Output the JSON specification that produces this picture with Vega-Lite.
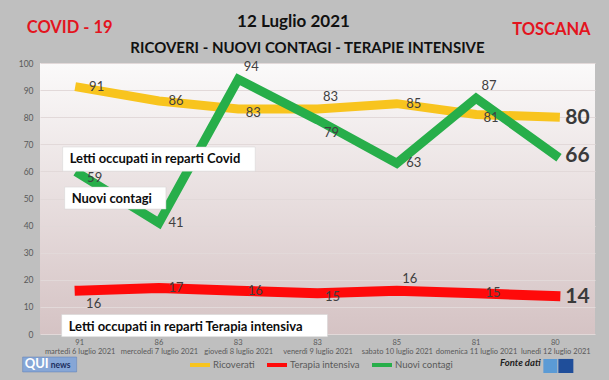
{
  "$schema": "https://vega.github.io/schema/vega-lite/v6.json",
  "width": 555,
  "height": 271,
  "autosize": {"type": "none"},
  "padding": {"left": 40, "top": 63, "right": 14, "bottom": 46},
  "background": "#BFBFBF",
  "config": {
    "font": "Lato",
    "view": {"stroke": null, "fill": {"gradient": "linear", "x1": 0, "y1": 0, "x2": 0, "y2": 1, "stops": [{"offset": 0, "color": "#FBFAFA"}, {"offset": 1, "color": "#D5C3C4"}]}},
    "axis": {"domain": false, "ticks": false, "title": null, "labelColor": "#595959", "labelFont": "Lato"}
  },
  "data": {"values": [
    {"giorno": "martedì 6 luglio 2021", "serie": "Ricoverati", "valore": 91},
    {"giorno": "mercoledì 7 luglio 2021", "serie": "Ricoverati", "valore": 86},
    {"giorno": "giovedì 8 luglio 2021", "serie": "Ricoverati", "valore": 83},
    {"giorno": "venerdì 9 luglio 2021", "serie": "Ricoverati", "valore": 83},
    {"giorno": "sabato 10 luglio 2021", "serie": "Ricoverati", "valore": 85},
    {"giorno": "domenica 11 luglio 2021", "serie": "Ricoverati", "valore": 81},
    {"giorno": "lunedì 12 luglio 2021", "serie": "Ricoverati", "valore": 80},
    {"giorno": "martedì 6 luglio 2021", "serie": "Terapia intensiva", "valore": 16},
    {"giorno": "mercoledì 7 luglio 2021", "serie": "Terapia intensiva", "valore": 17},
    {"giorno": "giovedì 8 luglio 2021", "serie": "Terapia intensiva", "valore": 16},
    {"giorno": "venerdì 9 luglio 2021", "serie": "Terapia intensiva", "valore": 15},
    {"giorno": "sabato 10 luglio 2021", "serie": "Terapia intensiva", "valore": 16},
    {"giorno": "domenica 11 luglio 2021", "serie": "Terapia intensiva", "valore": 15},
    {"giorno": "lunedì 12 luglio 2021", "serie": "Terapia intensiva", "valore": 14},
    {"giorno": "martedì 6 luglio 2021", "serie": "Nuovi contagi", "valore": 59},
    {"giorno": "mercoledì 7 luglio 2021", "serie": "Nuovi contagi", "valore": 41},
    {"giorno": "giovedì 8 luglio 2021", "serie": "Nuovi contagi", "valore": 94},
    {"giorno": "venerdì 9 luglio 2021", "serie": "Nuovi contagi", "valore": 79},
    {"giorno": "sabato 10 luglio 2021", "serie": "Nuovi contagi", "valore": 63},
    {"giorno": "domenica 11 luglio 2021", "serie": "Nuovi contagi", "valore": 87},
    {"giorno": "lunedì 12 luglio 2021", "serie": "Nuovi contagi", "valore": 66}
  ]},
  "encoding": {
    "x": {
      "field": "giorno", "type": "nominal", "sort": null,
      "scale": {"type": "point", "padding": 0.5, "domain": ["martedì 6 luglio 2021", "mercoledì 7 luglio 2021", "giovedì 8 luglio 2021", "venerdì 9 luglio 2021", "sabato 10 luglio 2021", "domenica 11 luglio 2021", "lunedì 12 luglio 2021"]},
      "axis": {"labelAngle": 0, "labelFontSize": 7.5, "labelPadding": 13, "grid": false, "labelLimit": 200}
    },
    "y": {
      "field": "valore", "type": "quantitative",
      "scale": {"domain": [0, 100], "nice": false},
      "axis": {"values": [0, 10, 20, 30, 40, 50, 60, 70, 80, 90, 100], "labelFontSize": 8.5, "labelPadding": 7, "gridColor": "#E2D9D9", "gridWidth": 1}
    }
  },
  "layer": [
    {
      "transform": [{"filter": "datum.serie == 'Ricoverati'"}],
      "mark": {"type": "line", "strokeWidth": 9, "strokeCap": "square"},
      "encoding": {"color": {"field": "serie", "type": "nominal",
        "scale": {"domain": ["Ricoverati", "Terapia intensiva", "Nuovi contagi"], "range": ["#F8C41E", "#FF0A0A", "#27AE4A"]},
        "legend": {"title": null, "orient": "none", "legendX": 148, "legendY": 290, "direction": "horizontal", "symbolType": "stroke", "symbolSize": 400, "symbolStrokeWidth": 4, "labelFontSize": 9.5, "labelColor": "#595959", "labelOffset": 1, "columnPadding": 4, "labelFont": "Lato"}}}
    },
    {
      "transform": [{"filter": "datum.serie == 'Terapia intensiva'"}],
      "mark": {"type": "line", "strokeWidth": 10, "strokeCap": "square"},
      "encoding": {"color": {"field": "serie", "type": "nominal"}}
    },
    {
      "transform": [{"filter": "datum.serie == 'Nuovi contagi'"}],
      "mark": {"type": "line", "strokeWidth": 9, "strokeCap": "square"},
      "encoding": {"color": {"field": "serie", "type": "nominal"}}
    },
    {
      "transform": [{"filter": "datum.serie == 'Ricoverati' && datum.giorno == 'martedì 6 luglio 2021'"}],
      "mark": {"type": "rect", "fill": "white", "stroke": "#D3D3D3", "strokeWidth": 0.5, "xOffset": -17, "x2Offset": 17},
      "encoding": {"x": {"datum": "martedì 6 luglio 2021"}, "x2": {"datum": "giovedì 8 luglio 2021"}, "y": {"datum": 69}, "y2": {"datum": 60.1}}
    },
    {
      "transform": [{"filter": "datum.serie == 'Ricoverati' && datum.giorno == 'martedì 6 luglio 2021'"}],
      "mark": {"type": "text", "text": "Letti occupati in reparti Covid", "align": "left", "baseline": "middle", "dx": -10, "fontSize": 13, "fontWeight": "bold", "color": "#0D0D0D"},
      "encoding": {"x": {"datum": "martedì 6 luglio 2021"}, "y": {"datum": 64.6}}
    },
    {
      "transform": [{"filter": "datum.serie == 'Ricoverati' && datum.giorno == 'martedì 6 luglio 2021'"}],
      "mark": {"type": "rect", "fill": "white", "stroke": "#D3D3D3", "strokeWidth": 0.5, "xOffset": -15, "x2Offset": 7},
      "encoding": {"x": {"datum": "martedì 6 luglio 2021"}, "x2": {"datum": "mercoledì 7 luglio 2021"}, "y": {"datum": 54.2}, "y2": {"datum": 46.1}}
    },
    {
      "transform": [{"filter": "datum.serie == 'Ricoverati' && datum.giorno == 'martedì 6 luglio 2021'"}],
      "mark": {"type": "text", "text": "Nuovi contagi", "align": "left", "baseline": "middle", "dx": -8, "fontSize": 13, "fontWeight": "bold", "color": "#0D0D0D"},
      "encoding": {"x": {"datum": "martedì 6 luglio 2021"}, "y": {"datum": 50}}
    },
    {
      "transform": [{"filter": "datum.serie == 'Ricoverati' && datum.giorno == 'martedì 6 luglio 2021'"}],
      "mark": {"type": "rect", "fill": "white", "stroke": "#D3D3D3", "strokeWidth": 0.5, "xOffset": -18, "x2Offset": 10},
      "encoding": {"x": {"datum": "martedì 6 luglio 2021"}, "x2": {"datum": "venerdì 9 luglio 2021"}, "y": {"datum": 7.2}, "y2": {"datum": -1}}
    },
    {
      "transform": [{"filter": "datum.serie == 'Ricoverati' && datum.giorno == 'martedì 6 luglio 2021'"}],
      "mark": {"type": "text", "text": "Letti occupati in reparti Terapia intensiva", "align": "left", "baseline": "middle", "dx": -11, "fontSize": 13, "fontWeight": "bold", "color": "#0D0D0D"},
      "encoding": {"x": {"datum": "martedì 6 luglio 2021"}, "y": {"datum": 2.6}}
    },
    {
      "transform": [{"filter": "indexof(['Rmartedì','Rmercoledì','Rsabato','Nmercoledì','Nsabato','Tmercoledì','Tdomenica','Tgiovedì'], substring(datum.serie,0,1) + split(datum.giorno,' ')[0]) >= 0"}],
      "mark": {"type": "text", "dx": 17, "dy": 0, "fontSize": 13, "color": "#404040", "baseline": "middle"},
      "encoding": {"text": {"field": "valore", "type": "quantitative"}}
    },
    {
      "transform": [{"filter": "indexof(['Rgiovedì','Rdomenica','Nmartedì','Tvenerdì'], substring(datum.serie,0,1) + split(datum.giorno,' ')[0]) >= 0"}],
      "mark": {"type": "text", "dx": 15, "dy": 4, "fontSize": 13, "color": "#404040", "baseline": "middle"},
      "encoding": {"text": {"field": "valore", "type": "quantitative"}}
    },
    {
      "transform": [{"filter": "indexof(['Rvenerdì','Ngiovedì','Ndomenica','Tsabato'], substring(datum.serie,0,1) + split(datum.giorno,' ')[0]) >= 0"}],
      "mark": {"type": "text", "dx": 13, "dy": -12, "fontSize": 13, "color": "#404040", "baseline": "middle"},
      "encoding": {"text": {"field": "valore", "type": "quantitative"}}
    },
    {
      "transform": [{"filter": "indexof(['Nvenerdì','Tmartedì'], substring(datum.serie,0,1) + split(datum.giorno,' ')[0]) >= 0"}],
      "mark": {"type": "text", "dx": 14, "dy": 13, "fontSize": 13, "color": "#404040", "baseline": "middle"},
      "encoding": {"text": {"field": "valore", "type": "quantitative"}}
    },
    {
      "transform": [{"filter": "datum.giorno == 'lunedì 12 luglio 2021'"}],
      "mark": {"type": "text", "align": "left", "dx": 10, "dy": 1, "fontSize": 21, "fontWeight": "bold", "color": "#3A3A3A", "baseline": "middle"},
      "encoding": {"text": {"field": "valore", "type": "quantitative"}}
    },
    {
      "transform": [{"filter": "datum.serie == 'Ricoverati'"}],
      "mark": {"type": "text", "dy": 9, "fontSize": 7.5, "color": "#595959", "baseline": "middle"},
      "encoding": {"y": {"datum": 0}, "text": {"field": "valore", "type": "quantitative"}}
    },
    {
      "transform": [{"filter": "datum.serie == 'Ricoverati' && datum.giorno == 'martedì 6 luglio 2021'"}],
      "mark": {"type": "text", "text": "12 Luglio 2021", "dx": -24, "dy": -41, "fontSize": 17, "fontWeight": "bold", "color": "#111111", "baseline": "middle"},
      "encoding": {"x": {"datum": "venerdì 9 luglio 2021"}, "y": {"datum": 100}}
    },
    {
      "transform": [{"filter": "datum.serie == 'Ricoverati' && datum.giorno == 'martedì 6 luglio 2021'"}],
      "mark": {"type": "text", "text": "RICOVERI - NUOVI CONTAGI - TERAPIE INTENSIVE", "dx": -10, "dy": -15, "fontSize": 15, "fontWeight": "bold", "color": "#111111", "baseline": "middle"},
      "encoding": {"x": {"datum": "venerdì 9 luglio 2021"}, "y": {"datum": 100}}
    },
    {
      "transform": [{"filter": "datum.serie == 'Ricoverati' && datum.giorno == 'martedì 6 luglio 2021'"}],
      "mark": {"type": "text", "text": "COVID - 19", "dx": -10, "dy": -35, "fontSize": 16.5, "fontWeight": "bold", "color": "#E3141E", "baseline": "middle"},
      "encoding": {"x": {"datum": "martedì 6 luglio 2021"}, "y": {"datum": 100}}
    },
    {
      "transform": [{"filter": "datum.serie == 'Ricoverati' && datum.giorno == 'martedì 6 luglio 2021'"}],
      "mark": {"type": "text", "text": "TOSCANA", "dx": -4, "dy": -33, "fontSize": 16.5, "fontWeight": "bold", "color": "#E3141E", "baseline": "middle"},
      "encoding": {"x": {"datum": "lunedì 12 luglio 2021"}, "y": {"datum": 100}}
    },
    {
      "transform": [{"filter": "datum.serie == 'Ricoverati' && datum.giorno == 'martedì 6 luglio 2021'"}],
      "mark": {"type": "rect", "fill": "#86A6D6", "stroke": "#5E7FB5", "strokeWidth": 0.5, "xOffset": -57, "x2Offset": -3},
      "encoding": {"x": {"datum": "martedì 6 luglio 2021"}, "x2": {"datum": "martedì 6 luglio 2021"}, "y": {"datum": -8.5}, "y2": {"datum": -14}}
    },
    {
      "transform": [{"filter": "datum.serie == 'Ricoverati' && datum.giorno == 'martedì 6 luglio 2021'"}],
      "mark": {"type": "text", "text": "QUI", "align": "left", "dx": -55, "dy": 30, "fontSize": 13, "fontWeight": "bold", "color": "white", "baseline": "middle"},
      "encoding": {"x": {"datum": "martedì 6 luglio 2021"}, "y": {"datum": 0}}
    },
    {
      "transform": [{"filter": "datum.serie == 'Ricoverati' && datum.giorno == 'martedì 6 luglio 2021'"}],
      "mark": {"type": "text", "text": "news", "align": "left", "dx": -29, "dy": 31, "fontSize": 8.5, "fontWeight": "bold", "color": "#1B2E5E", "baseline": "middle"},
      "encoding": {"x": {"datum": "martedì 6 luglio 2021"}, "y": {"datum": 0}}
    },
    {
      "transform": [{"filter": "datum.serie == 'Ricoverati' && datum.giorno == 'martedì 6 luglio 2021'"}],
      "mark": {"type": "text", "text": "Fonte dati", "dx": -35, "dy": 29, "fontSize": 9.5, "fontWeight": "bold", "fontStyle": "italic", "color": "#222222", "baseline": "middle"},
      "encoding": {"x": {"datum": "lunedì 12 luglio 2021"}, "y": {"datum": 0}}
    },
    {
      "transform": [{"filter": "datum.serie == 'Ricoverati' && datum.giorno == 'martedì 6 luglio 2021'"}],
      "mark": {"type": "rect", "fill": "#5B9BD5", "xOffset": -12, "x2Offset": 2},
      "encoding": {"x": {"datum": "lunedì 12 luglio 2021"}, "x2": {"datum": "lunedì 12 luglio 2021"}, "y": {"datum": -9.2}, "y2": {"datum": -14.4}}
    },
    {
      "transform": [{"filter": "datum.serie == 'Ricoverati' && datum.giorno == 'martedì 6 luglio 2021'"}],
      "mark": {"type": "rect", "fill": "#1F4E9A", "xOffset": 3, "x2Offset": 18},
      "encoding": {"x": {"datum": "lunedì 12 luglio 2021"}, "x2": {"datum": "lunedì 12 luglio 2021"}, "y": {"datum": -9.2}, "y2": {"datum": -14.4}}
    }
  ]
}
